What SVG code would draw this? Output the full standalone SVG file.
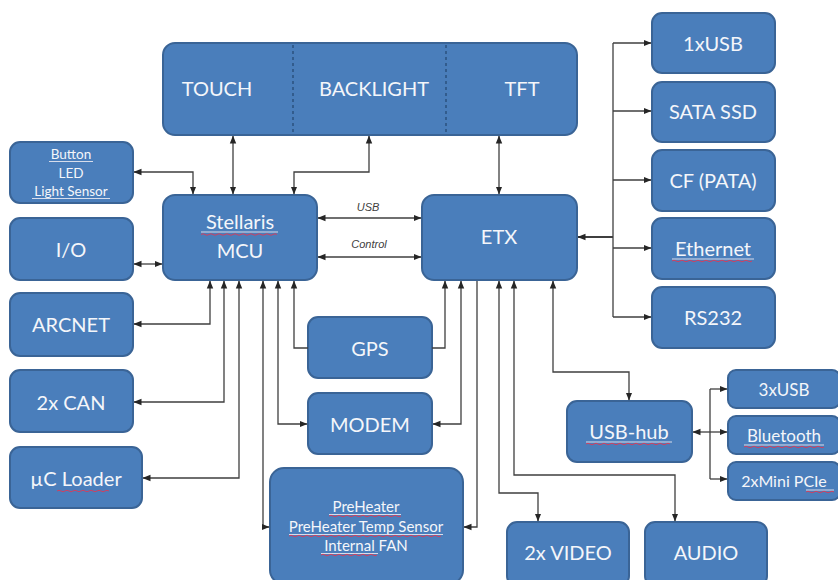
<svg xmlns="http://www.w3.org/2000/svg" width="838" height="580" viewBox="0 0 838 580">
<defs>
<marker id="ah" viewBox="0 0 8 8" refX="7.5" refY="4" markerWidth="8" markerHeight="8" markerUnits="userSpaceOnUse" orient="auto-start-reverse">
<path d="M0,0.8 L8,4 L0,7.2 z" fill="#262626"/>
</marker>
</defs>
<style>
.box{fill:#4a7ebb;stroke:#3a6496;stroke-width:2}
.t{font-family:Lato,"Liberation Sans",sans-serif;fill:#f4f6fa;text-anchor:middle}
.big{font-size:20px}
.mid{font-size:17px}
.sm{font-size:13.5px}
.lbl{font-family:"Liberation Sans",Arial,sans-serif;font-size:11px;font-style:italic;fill:#404040;text-anchor:middle}
.c{fill:none;stroke:#3f3f3f;stroke-width:1.3}
.b{marker-start:url(#ah);marker-end:url(#ah)}
.e{marker-end:url(#ah)}
.ul{stroke:#e8e8f0;stroke-width:0.9;fill:none}
.sq{stroke:#d04060;stroke-width:1;fill:none}
.dash{stroke:#24466f;stroke-width:1.2;stroke-dasharray:3,3}
</style>
<rect width="838" height="580" fill="#ffffff"/>

<g id="display">
<rect class="box" x="163" y="43" width="414" height="92" rx="12"/>
<line class="dash" x1="293" y1="45" x2="293" y2="133"/>
<line class="dash" x1="446" y1="45" x2="446" y2="133"/>
<text class="t big" x="217" y="96">TOUCH</text>
<text class="t big" x="374" y="96">BACKLIGHT</text>
<text class="t big" x="522" y="96">TFT</text>
</g>

<g id="button">
<rect class="box" x="10" y="142" width="123" height="61" rx="10"/>
<text class="t sm" x="71" y="159">Button</text>
<text class="t sm" x="71" y="178">LED</text>
<text class="t sm" x="71" y="196">Light Sensor</text>
<line class="ul" x1="49" y1="161.5" x2="93" y2="161.5"/>
<line class="ul" x1="32" y1="198.5" x2="110" y2="198.5"/>
</g>

<g id="io">
<rect class="box" x="10" y="218" width="123" height="62" rx="10"/>
<text class="t big" x="71" y="257">I/O</text>
</g>

<g id="arcnet">
<rect class="box" x="10" y="293" width="123" height="63" rx="10"/>
<text class="t big" x="71" y="332">ARCNET</text>
</g>

<g id="can">
<rect class="box" x="10" y="370" width="123" height="62" rx="10"/>
<text class="t big" x="71" y="410">2x CAN</text>
</g>

<g id="loader">
<rect class="box" x="10" y="447" width="132" height="61" rx="10"/>
<text class="t big" x="76" y="486">µC Loader</text>
<path class="sq" d="M57,491 q2,-1.5 4,0 t4,0 t4,0 t4,0 t4,0 t4,0 t4,0 t4,0 t4,0 t4,0 t4,0 t4,0 t4,0"/>
</g>

<g id="mcu">
<rect class="box" x="163" y="195" width="154" height="85" rx="12"/>
<text class="t big" x="240" y="229">Stellaris</text>
<text class="t big" x="240" y="258">MCU</text>
<line class="ul" x1="201" y1="232" x2="278" y2="232"/>
<path class="sq" d="M201,234.5 q2,-1.5 4,0 t4,0 t4,0 t4,0 t4,0 t4,0 t4,0 t4,0 t4,0 t4,0 t4,0 t4,0 t4,0 t4,0 t4,0 t4,0 t4,0 t4,0 t4,0"/>
</g>

<g id="etx">
<rect class="box" x="422" y="195" width="155" height="85" rx="12"/>
<text class="t big" x="499" y="244">ETX</text>
</g>

<g id="gps">
<rect class="box" x="308" y="317" width="124" height="61" rx="10"/>
<text class="t big" x="370" y="356">GPS</text>
</g>

<g id="modem">
<rect class="box" x="308" y="393" width="124" height="61" rx="10"/>
<text class="t big" x="370" y="432">MODEM</text>
</g>

<g id="preheater">
<rect class="box" x="270" y="468" width="193" height="116" rx="14"/>
<text class="t" style="font-size:15px" x="366" y="512">PreHeater</text>
<text class="t" style="font-size:15px" x="366" y="532">PreHeater Temp Sensor</text>
<text class="t" style="font-size:15px" x="366" y="551">Internal FAN</text>
<line class="ul" x1="329" y1="514.5" x2="401" y2="514.5"/>
<line class="ul" x1="289" y1="534.5" x2="443" y2="534.5"/>
<line class="ul" x1="321" y1="553.5" x2="378" y2="553.5"/>
<path class="sq" d="M329,516 q2,-1.5 4,0 t4,0 t4,0 t4,0 t4,0 t4,0 t4,0 t4,0 t4,0 t4,0 t4,0 t4,0 t4,0 t4,0 t4,0 t4,0 t4,0 t4,0"/>
<path class="sq" d="M289,536 q2,-1.5 4,0 t4,0 t4,0 t4,0 t4,0 t4,0 t4,0 t4,0 t4,0 t4,0 t4,0 t4,0 t4,0 t4,0 t4,0 t4,0 t4,0 t4,0 t4,0 t4,0 t4,0 t4,0 t4,0 t4,0 t4,0 t4,0 t4,0 t4,0 t4,0 t4,0 t4,0 t4,0 t4,0 t4,0 t4,0 t4,0 t4,0 t4,0"/>
<path class="sq" d="M321,555 q2,-1.5 4,0 t4,0 t4,0 t4,0 t4,0 t4,0 t4,0 t4,0 t4,0 t4,0 t4,0 t4,0 t4,0 t4,0"/>
</g>

<g id="usb1">
<rect class="box" x="652" y="13" width="123" height="60" rx="10"/>
<text class="t big" x="713" y="51">1xUSB</text>
</g>

<g id="sata">
<rect class="box" x="652" y="82" width="123" height="60" rx="10"/>
<text class="t big" x="713" y="119">SATA SSD</text>
</g>

<g id="cf">
<rect class="box" x="652" y="150" width="123" height="61" rx="10"/>
<text class="t big" x="713" y="188">CF (PATA)</text>
</g>

<g id="ethernet">
<rect class="box" x="652" y="218" width="123" height="61" rx="10"/>
<text class="t big" x="713" y="256">Ethernet</text>
<line class="ul" x1="672" y1="259" x2="754" y2="259"/>
<path class="sq" d="M672,261 q2,-1.5 4,0 t4,0 t4,0 t4,0 t4,0 t4,0 t4,0 t4,0 t4,0 t4,0 t4,0 t4,0 t4,0 t4,0 t4,0 t4,0 t4,0 t4,0 t4,0 t4,0"/>
</g>

<g id="rs232">
<rect class="box" x="652" y="287" width="123" height="61" rx="10"/>
<text class="t big" x="713" y="325">RS232</text>
</g>

<g id="usbhub">
<rect class="box" x="567" y="401" width="125" height="61" rx="10"/>
<text class="t big" x="629" y="439">USB-hub</text>
<line class="ul" x1="586" y1="442" x2="672" y2="442"/>
<path class="sq" d="M586,444 q2,-1.5 4,0 t4,0 t4,0 t4,0 t4,0 t4,0 t4,0 t4,0 t4,0 t4,0 t4,0 t4,0 t4,0 t4,0 t4,0 t4,0 t4,0 t4,0 t4,0 t4,0 t4,0"/>
</g>

<g id="usb3">
<rect class="box" x="728" y="370" width="112" height="38" rx="8"/>
<text class="t mid" x="784" y="396">3xUSB</text>
</g>

<g id="bluetooth">
<rect class="box" x="728" y="416" width="112" height="38" rx="8"/>
<text class="t mid" x="784" y="442">Bluetooth</text>
<line class="ul" x1="744" y1="445" x2="824" y2="445"/>
<path class="sq" d="M744,447 q2,-1.5 4,0 t4,0 t4,0 t4,0 t4,0 t4,0 t4,0 t4,0 t4,0 t4,0 t4,0 t4,0 t4,0 t4,0 t4,0 t4,0 t4,0 t4,0 t4,0 t4,0"/>
</g>

<g id="pcie">
<rect class="box" x="728" y="462" width="112" height="38" rx="8"/>
<text class="t" style="font-size:16px" x="784" y="487">2xMini PCIe</text>
<line class="ul" x1="806" y1="490" x2="834" y2="490"/>
<path class="sq" d="M806,492 q2,-1.5 4,0 t4,0 t4,0 t4,0 t4,0 t4,0 t4,0"/>
</g>

<g id="video">
<rect class="box" x="507" y="522" width="122" height="64" rx="10"/>
<text class="t big" x="568" y="560">2x VIDEO</text>
</g>

<g id="audio">
<rect class="box" x="645" y="522" width="122" height="64" rx="10"/>
<text class="t big" x="706" y="560">AUDIO</text>
</g>

<g id="connectors">
<path class="c b" d="M233,136 L233,194"/>
<path class="c b" d="M369,136 L369,172 L294,172 L294,194"/>
<path class="c b" d="M134,172 L193,172 L193,194"/>
<path class="c b" d="M499,136 L499,194"/>
<path class="c b" d="M134,264 L162,264"/>
<path class="c b" d="M318,218 L421,218"/>
<path class="c b" d="M318,257 L421,257"/>
<text class="lbl" x="368" y="211">USB</text>
<text class="lbl" x="369" y="248">Control</text>
<path class="c e" style="stroke-width:2.2" d="M613,237 L578,237"/>
<path class="c" d="M613,43 L613,317"/>
<path class="c e" d="M613,43 L651,43"/>
<path class="c e" d="M613,111 L651,111"/>
<path class="c e" d="M613,180 L651,180"/>
<path class="c e" d="M613,248 L651,248"/>
<path class="c e" d="M613,317 L651,317"/>
<path class="c b" d="M210,281 L210,324 L134,324"/>
<path class="c b" d="M224,281 L224,402 L134,402"/>
<path class="c b" d="M239,281 L239,478 L143,478"/>
<path class="c b" d="M263,281 L263,527 L269,527"/>
<path class="c b" d="M278,281 L278,424 L307,424"/>
<path class="c e" d="M308,348 L294,348 L294,281"/>
<path class="c e" d="M432,348 L445,348 L445,281"/>
<path class="c b" d="M461,281 L461,424 L433,424"/>
<path class="c e" d="M477,281 L477,527 L464,527"/>
<path class="c b" d="M499,281 L499,493 L538,493 L538,521"/>
<path class="c b" d="M514,281 L514,475 L675,475 L675,521"/>
<path class="c b" d="M553,281 L553,372 L629,372 L629,400"/>
<path class="c e" d="M710,432 L693,432"/>
<path class="c" d="M710,389 L710,479"/>
<path class="c e" d="M710,389 L727,389"/>
<path class="c e" d="M710,432 L727,432"/>
<path class="c e" d="M710,479 L727,479"/>
</g>
</svg>
